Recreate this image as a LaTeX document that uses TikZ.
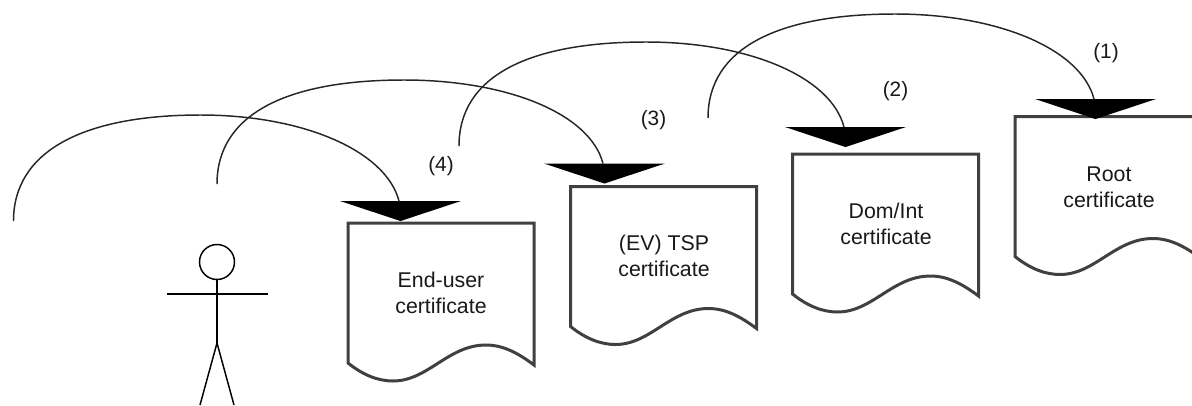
\documentclass[tikz,border=0pt]{standalone}
\usepackage{fontspec}
\setmainfont{Liberation Sans}
\tikzset{
  docline/.style={draw=black!75,line width=2.25pt,fill=white,line join=miter},
  link/.style={draw=black!85,line width=1.1pt},
  actorline/.style={draw=black,line width=1.1pt},
  tiptri/.style={fill=black,draw=none},
  lbl/.style={font=\fontsize{16pt}{19.5pt}\selectfont,align=center,inner sep=0pt,text=black!90},
  num/.style={font=\fontsize{15.6pt}{18pt}\selectfont,inner sep=0pt,text=black!90},
  pics/certdoc/.style={code={
    \path[docline] (0,0) -- (186,0) -- (186,142)
      .. controls (170,130) and (155,122) .. (138,122)
      .. controls (100,122) and (80,158) .. (45,158)
      .. controls (30,158) and (15,152) .. (0,140) -- cycle;
  }},
  pics/tipmark/.style={code={
    \path[tiptri] (-60.5,0) -- (60.5,0) -- (0,20) -- cycle;
  }}
}
\begin{document}
\begin{tikzpicture}[x=0.75pt,y=-0.75pt]
\useasboundingbox (0,0) rectangle (1192,405);
\clip (0,0) rectangle (1192,405);
% documents
\pic at (348,223) {certdoc};
\pic at (570.5,186.5) {certdoc};
\pic at (792.5,154) {certdoc};
\pic at (1015,116.5) {certdoc};
% texts
\node[lbl] (endu) at (441,293) {End-user\\certificate};
\node[lbl] (tsp) at (664,256) {(EV) TSP\\certificate};
\node[lbl] (dom) at (886,224) {Dom/Int\\certificate};
\node[lbl] (root) at (1109,187) {Root\\certificate};
\node[num] (n4) at (441,166) {(4)};
\node[num] (n3) at (653.5,120.5) {(3)};
\node[num] (n2) at (895.5,91) {(2)};
\node[num] (n1) at (1106,53) {(1)};
% arrow marks
\coordinate (e4) at (399,201);
\coordinate (e3) at (603,163.5);
\coordinate (e2) at (844,127);
\coordinate (e1) at (1094,99);
\pic at (400.5,201) {tipmark};
\pic at (604.5,163.5) {tipmark};
\pic at (845.5,127) {tipmark};
\pic at (1095.5,99) {tipmark};
% starts
\coordinate (s4) at (13.5,221);
\coordinate (s3) at (217,184);
\coordinate (s2) at (459,146);
\coordinate (s1) at (708,118);
% connectors
\foreach \i/\r in {1/104,2/104,3/104,4/106}{
  \path[link] (s\i) .. controls +(0,-70) and +(-117,0) .. ++(187,-\r)
     .. controls +(103,0) and +(-13,-50) .. (e\i);
}
% actor
\node[draw=black,line width=1.1pt,circle,minimum size=35pt*0.75,inner sep=0pt] (head) at (217,262) {};
\coordinate (hip) at (217,343);
\coordinate (armL) at (166.5,294);
\coordinate (armR) at (268,294);
\coordinate (footL) at (200,405);
\coordinate (footR) at (234,405);
\path[actorline] (head.south) -- (hip);
\path[actorline] (armL) -- (armR);
\path[actorline] (footL) -- (hip) -- (footR);
\end{tikzpicture}
\end{document}
